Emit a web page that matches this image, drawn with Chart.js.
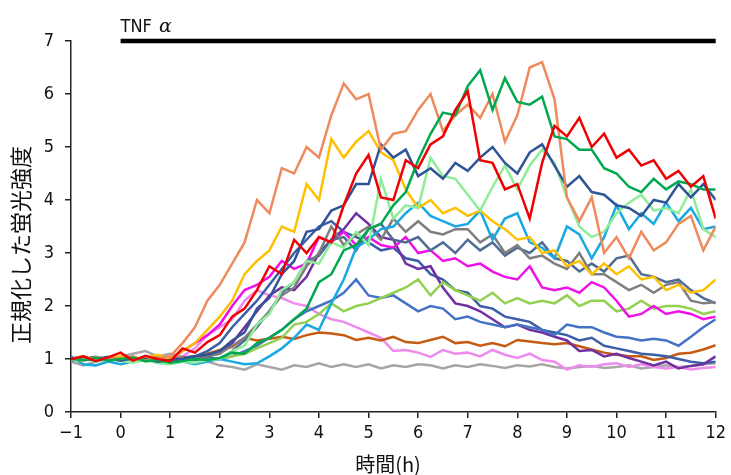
<!DOCTYPE html>
<html lang="ja">
<head>
  <meta charset="UTF-8">
  <title>正規化した蛍光強度</title>
  <script src="https://cdn.jsdelivr.net/npm/chart.js"></script>
  <style>
    html, body { margin: 0; padding: 0; background: #fff; }
    #wrap { width: 731px; height: 475px; }
  </style>
</head>
<body>
  <div id="wrap"><canvas id="fluoChart" width="731" height="475"></canvas></div>

  <script>
    // 時間軸 (h)
    const hours = [
      -1, -0.75, -0.5, -0.25, 0, 0.25, 0.5, 0.75, 1, 1.25, 1.5, 1.75,
      2, 2.25, 2.5, 2.75, 3, 3.25, 3.5, 3.75, 4, 4.25, 4.5, 4.75,
      5, 5.25, 5.5, 5.75, 6, 6.25, 6.5, 6.75, 7, 7.25, 7.5, 7.75,
      8, 8.25, 8.5, 8.75, 9, 9.25, 9.5, 9.75, 10, 10.25, 10.5, 10.75,
      11, 11.25, 11.5, 11.75, 12
    ];

    // 各細胞の正規化蛍光強度 (4点/時間)
    const cellSalmon = [1.0, 1.05, 0.98, 1.02, 1.0, 1.05, 0.97, 1.02, 1.05, 1.3, 1.6, 2.1,
      2.4, 2.8, 3.2, 4.0, 3.75, 4.6, 4.5, 5.0, 4.8, 5.6, 6.2, 5.9,
      6.0, 4.95, 5.25, 5.3, 5.7, 6.0, 5.3, 5.6, 5.8, 5.55, 6.0, 5.1,
      5.6, 6.5, 6.6, 5.9, 4.05, 3.6, 4.05, 3.0, 3.3, 2.9, 3.4, 3.05,
      3.2, 3.55, 3.7, 3.05, 3.5];
    const cellGold = [1.0, 0.97, 1.03, 1.0, 1.05, 0.98, 1.02, 1.08, 1.0, 1.15, 1.3, 1.55,
      1.8, 2.1, 2.6, 2.85, 3.05, 3.5, 3.4, 4.3, 4.0, 5.15, 4.8, 5.1,
      5.3, 4.9, 4.75, 4.2, 3.85, 4.0, 3.75, 3.85, 3.7, 3.8, 3.6, 3.45,
      3.25, 3.3, 3.0, 3.05, 2.75, 2.85, 2.6, 2.8, 2.6, 2.75, 2.5, 2.55,
      2.3, 2.4, 2.25, 2.3, 2.5];
    const cellRed = [1.0, 1.05, 0.96, 1.03, 1.12, 0.97, 1.06, 1.0, 0.96, 1.2, 1.12, 1.32,
      1.45, 1.8, 1.95, 2.3, 2.75, 2.6, 3.25, 3.0, 3.3, 3.2, 3.9, 4.5,
      4.85, 4.05, 4.0, 4.75, 4.6, 5.05, 5.2, 5.7, 6.05, 4.75, 4.7, 4.2,
      4.3, 3.65, 4.7, 5.4, 5.2, 5.55, 5.0, 5.25, 4.8, 4.95, 4.65, 4.75,
      4.4, 4.55, 4.25, 4.45, 3.65];
    const cellGreen = [1.0, 0.98, 1.02, 0.97, 1.0, 1.03, 0.96, 0.98, 0.93, 0.96, 1.0, 0.98,
      1.02, 1.12, 1.1, 1.3, 1.4, 1.55, 1.75, 1.95, 2.45, 2.6, 3.05, 3.15,
      3.45, 3.55, 3.9, 4.15, 4.75, 5.25, 5.65, 5.6, 6.15, 6.45, 5.7, 6.3,
      5.85, 5.8, 5.95, 5.2, 5.15, 4.95, 4.95, 4.6, 4.5, 4.25, 4.15, 4.4,
      4.2, 4.35, 4.3, 4.2, 4.2];
    const cellNavy = [1.02, 0.98, 1.0, 1.04, 0.97, 1.02, 1.0, 0.95, 0.98, 1.0, 1.05, 1.08,
      1.15, 1.35, 1.5, 1.95, 2.15, 2.6, 2.85, 3.4, 3.45, 3.8, 3.9, 4.3,
      4.3, 5.05, 4.8, 4.95, 4.45, 4.6, 4.4, 4.7, 4.55, 4.8, 5.0, 4.7,
      4.5, 4.9, 5.05, 4.65, 4.25, 4.45, 4.15, 4.1, 3.9, 3.85, 3.7, 4.0,
      3.95, 4.3, 4.05, 4.3, 4.0];
    const cellLightGreen = [0.98, 1.02, 0.95, 1.0, 0.97, 0.93, 0.98, 0.92, 0.9, 0.95, 0.93, 0.98,
      1.0, 1.15, 1.25, 1.65, 1.85, 2.3, 2.45, 2.85, 2.8, 3.2, 3.1, 3.4,
      3.15, 4.4, 3.65, 3.9, 3.85, 4.8, 4.45, 4.4, 4.1, 3.8, 4.25, 4.65,
      4.2, 4.65, 4.95, 4.7, 4.05, 3.5, 3.3, 3.4, 3.75, 3.95, 4.1, 3.8,
      3.85, 3.75, 4.2, 3.45, 3.3];
    const cellCyan = [1.05, 0.9, 0.88, 0.95, 0.9, 0.95, 1.0, 0.95, 0.92, 0.95, 0.9, 0.95,
      1.0, 0.95, 0.9, 0.92, 1.05, 1.2, 1.4, 1.65, 1.55, 2.05, 2.5, 3.1,
      3.25, 3.45, 3.5, 3.75, 3.95, 3.7, 3.6, 3.5, 3.55, 3.8, 3.25, 3.65,
      3.75, 3.2, 3.1, 2.9, 3.5, 3.35, 2.9, 3.3, 3.9, 3.45, 3.75, 3.55,
      3.95, 3.6, 3.85, 3.45, 3.5];
    const cellGray = [1.0, 1.03, 0.98, 1.0, 1.02, 0.97, 1.0, 1.04, 0.98, 1.02, 1.0, 1.05,
      1.1, 1.25, 1.4, 1.65, 1.9, 2.2, 2.35, 2.75, 3.0, 3.5, 3.15, 3.35,
      3.5, 3.25, 3.65, 3.4, 3.6, 3.4, 3.35, 3.45, 3.45, 3.2, 3.35, 3.0,
      3.15, 2.9, 2.95, 2.8, 2.7, 3.0, 2.6, 2.6, 2.45, 2.3, 2.4, 2.25,
      2.4, 2.45, 2.1, 2.05, 2.07];
    const cellSlate = [0.97, 1.0, 1.04, 0.99, 1.0, 0.96, 1.03, 1.0, 0.97, 1.0, 0.98, 1.02,
      1.0, 1.15, 1.35, 1.6, 1.9, 2.25, 2.45, 2.85, 2.95, 3.25, 3.3, 3.05,
      3.45, 3.55, 3.25, 3.2, 3.3, 3.05, 3.2, 3.0, 3.25, 3.05, 3.2, 2.95,
      3.1, 3.0, 3.2, 2.9, 2.85, 2.65, 2.8, 2.65, 2.9, 2.95, 2.6, 2.55,
      2.45, 2.5, 2.3, 2.15, 2.05];
    const cellMagenta = [1.0, 1.02, 0.97, 1.0, 1.03, 0.98, 1.0, 1.05, 1.0, 1.15, 1.3, 1.45,
      1.65, 2.0, 2.3, 2.4, 2.55, 2.85, 2.7, 2.8, 3.3, 3.2, 3.4, 3.15,
      3.3, 3.15, 3.1, 3.3, 3.0, 3.05, 2.85, 2.9, 2.75, 2.8, 2.65, 2.55,
      2.5, 2.75, 2.35, 2.3, 2.35, 2.25, 2.45, 2.35, 2.1, 1.8, 1.85, 2.0,
      1.85, 1.9, 1.85, 1.75, 1.8];
    const cellYellowGreen = [1.0, 0.97, 1.02, 1.0, 0.98, 1.0, 0.96, 0.99, 0.95, 0.98, 1.0, 1.02,
      1.0, 1.05, 1.1, 1.2, 1.3, 1.4, 1.65, 1.7, 1.85, 2.05, 1.9, 2.0,
      2.05, 2.15, 2.25, 2.35, 2.5, 2.2, 2.45, 2.3, 2.2, 2.1, 2.25, 2.05,
      2.15, 2.05, 2.1, 2.05, 2.2, 2.0, 2.1, 2.1, 1.9, 1.95, 2.1, 1.95,
      2.0, 2.0, 1.95, 1.85, 1.9];
    const cellBlue = [1.0, 1.02, 0.98, 1.0, 0.97, 1.0, 1.03, 0.98, 0.96, 1.0, 0.98, 1.02,
      1.0, 1.05, 1.15, 1.25, 1.4, 1.55, 1.75, 1.9, 2.0, 2.1, 2.25, 2.5,
      2.2, 2.15, 2.2, 2.05, 1.9, 2.0, 1.95, 1.75, 1.8, 1.7, 1.65, 1.6,
      1.65, 1.6, 1.55, 1.45, 1.65, 1.6, 1.6, 1.5, 1.42, 1.4, 1.35, 1.38,
      1.35, 1.25, 1.42, 1.6, 1.75];
    const cellPurple = [0.98, 1.0, 1.03, 0.97, 1.0, 0.95, 1.0, 0.97, 0.95, 0.98, 1.02, 1.05,
      1.1, 1.3, 1.6, 1.9, 2.2, 2.35, 2.3, 2.55, 3.0, 3.25, 3.45, 3.75,
      3.55, 3.3, 3.25, 2.8, 2.7, 2.75, 2.35, 2.05, 2.0, 1.9, 1.75, 1.6,
      1.65, 1.55, 1.5, 1.42, 1.35, 1.15, 1.17, 1.05, 1.1, 1.02, 0.95, 0.88,
      0.95, 0.82, 0.87, 0.9, 1.05];
    const cellBrown = [1.0, 0.98, 1.02, 1.0, 0.97, 1.0, 1.02, 0.98, 1.0, 1.03, 1.05, 1.1,
      1.17, 1.23, 1.4, 1.35, 1.38, 1.42, 1.38, 1.45, 1.5, 1.48, 1.45, 1.36,
      1.4, 1.35, 1.42, 1.32, 1.3, 1.36, 1.42, 1.3, 1.32, 1.25, 1.3, 1.24,
      1.36, 1.33, 1.3, 1.28, 1.3, 1.24, 1.18, 1.12, 1.08, 1.05, 1.05, 0.98,
      1.02, 1.1, 1.12, 1.18, 1.26];
    const cellPink = [1.0, 0.97, 1.0, 1.03, 0.98, 1.0, 1.02, 0.97, 1.0, 1.05, 1.2, 1.45,
      1.6, 1.75, 2.1, 2.3, 2.2, 2.15, 2.05, 2.0, 1.85, 1.75, 1.7, 1.6,
      1.5, 1.4, 1.15, 1.17, 1.12, 1.04, 1.17, 1.1, 1.12, 1.05, 1.17, 1.08,
      1.02, 1.1, 0.98, 0.95, 0.8, 0.88, 0.85, 0.9, 0.92, 0.85, 0.9, 0.85,
      0.82, 0.85, 0.8, 0.83, 0.85];
    const cellLightGray = [0.95, 0.88, 0.95, 1.0, 1.05, 1.1, 1.15, 1.05, 1.1, 1.05, 1.0, 0.95,
      0.88, 0.85, 0.8, 0.9, 0.85, 0.8, 0.88, 0.85, 0.92, 0.85, 0.9, 0.85,
      0.9, 0.82, 0.88, 0.85, 0.9, 0.88, 0.82, 0.88, 0.85, 0.9, 0.87, 0.83,
      0.88, 0.86, 0.9, 0.85, 0.82, 0.85, 0.87, 0.83, 0.85, 0.88, 0.82, 0.85,
      0.88, 0.85, 0.87, 0.9, 0.92];
    const cellDeepBlue = [1.0, 1.04, 0.97, 1.0, 1.02, 0.98, 1.0, 0.95, 0.98, 1.02, 1.05, 1.15,
      1.3, 1.6, 1.85, 2.1, 2.4, 2.7, 3.0, 3.25, 3.5, 3.6, 3.4, 3.3,
      3.2, 3.05, 3.1, 2.9, 2.85, 2.6, 2.5, 2.3, 2.25, 2.0, 1.95, 1.8,
      1.75, 1.7, 1.55, 1.5, 1.45, 1.35, 1.4, 1.25, 1.2, 1.15, 1.1, 1.08,
      1.05, 1.0, 0.95, 0.92, 0.95];

    // TNFα 添加期間
    const tnfStart = 0;
    const tnfEnd = 12;
    const tnfLevel = 7;

    const seriesList = [
      { data: cellRed, color: '#F00000' },
      { data: cellGreen, color: '#00A94F' },
      { data: cellSalmon, color: '#EE8A5C' },
      { data: cellNavy, color: '#2F5597' },
      { data: cellLightGreen, color: '#8FEC98' },
      { data: cellGold, color: '#FFC000' },
      { data: cellCyan, color: '#18A8E2' },
      { data: cellGray, color: '#7F7F7F' },
      { data: cellSlate, color: '#4E6C94' },
      { data: cellMagenta, color: '#F010E8' },
      { data: cellYellowGreen, color: '#92D050' },
      { data: cellBlue, color: '#4472C4' },
      { data: cellPurple, color: '#7030A0' },
      { data: cellDeepBlue, color: '#3A5FA8' },
      { data: cellBrown, color: '#C55A11' },
      { data: cellPink, color: '#EE8CEE' },
      { data: cellLightGray, color: '#A6A6A6' }
    ];

    const tickFont = "'Liberation Sans Narrow', 'Arial Narrow', 'DejaVu Sans Condensed', sans-serif";
    const jpFont = "'Noto Sans CJK JP', sans-serif";

    const datasets = seriesList.map(s => ({
      data: hours.map((h, i) => ({ x: h, y: s.data[i] })),
      borderColor: s.color,
      borderWidth: 2.5,
      pointRadius: 0,
      tension: 0,
      fill: false
    }));

    // 刺激期間の黒線
    datasets.unshift({
      data: [{ x: tnfStart, y: tnfLevel }, { x: tnfEnd, y: tnfLevel }],
      borderColor: '#000',
      borderWidth: 4.5,
      pointRadius: 0,
      clip: false
    });

    // 軸タイトルと TNFα ラベル
    const labelPlugin = {
      id: 'labels',
      afterDraw(chart) {
        const c = chart.ctx;
        const xs = chart.scales.x, ys = chart.scales.y;
        c.save();
        c.fillStyle = '#111';
        c.textBaseline = 'alphabetic';
        c.textAlign = 'left';
        const lx = xs.getPixelForValue(tnfStart);
        const ly = ys.getPixelForValue(tnfLevel) - 9;
        c.font = "18px " + tickFont;
        c.fillText('TNF', lx, ly);
        const w = c.measureText('TNF ').width;
        c.font = "italic 19px 'DejaVu Serif', serif";
        c.fillText('α', lx + w + 2, ly);

        c.font = "20px " + jpFont;
        c.textAlign = 'center';
        c.textBaseline = 'middle';
        c.fillText('時間(h)', 388, 464);

        c.translate(21, 245);
        c.rotate(-Math.PI / 2);
        c.font = "22px " + jpFont;
        c.fillText('正規化した蛍光強度', 0, 0);
        c.restore();
      }
    };

    const ctx = document.getElementById('fluoChart').getContext('2d');
    new Chart(ctx, {
      type: 'line',
      data: { datasets },
      plugins: [labelPlugin],
      options: {
        responsive: false,
        animation: false,
        layout: { padding: { top: 41, right: 12, left: 0, bottom: 0 } },
        plugins: { legend: { display: false }, tooltip: { enabled: false } },
        scales: {
          x: {
            type: 'linear',
            min: -1,
            max: 12,
            afterFit: s => { s.height = 63; },
            border: { display: true, color: '#222', width: 1.5 },
            grid: { drawOnChartArea: false, drawTicks: true, tickLength: 6, color: '#222', lineWidth: 1.5 },
            ticks: {
              stepSize: 1,
              padding: 5,
              color: '#111',
              font: { family: tickFont, size: 18 },
              callback: v => String(v).replace('-', '\u2212')
            }
          },
          y: {
            min: 0,
            max: 7,
            afterFit: s => { s.width = 71; },
            border: { display: true, color: '#222', width: 1.5 },
            grid: { drawOnChartArea: false, drawTicks: true, tickLength: 6, color: '#222', lineWidth: 1.5 },
            ticks: {
              stepSize: 1,
              padding: 11,
              color: '#111',
              font: { family: tickFont, size: 18 }
            }
          }
        }
      }
    });
  </script>
</body>
</html>
